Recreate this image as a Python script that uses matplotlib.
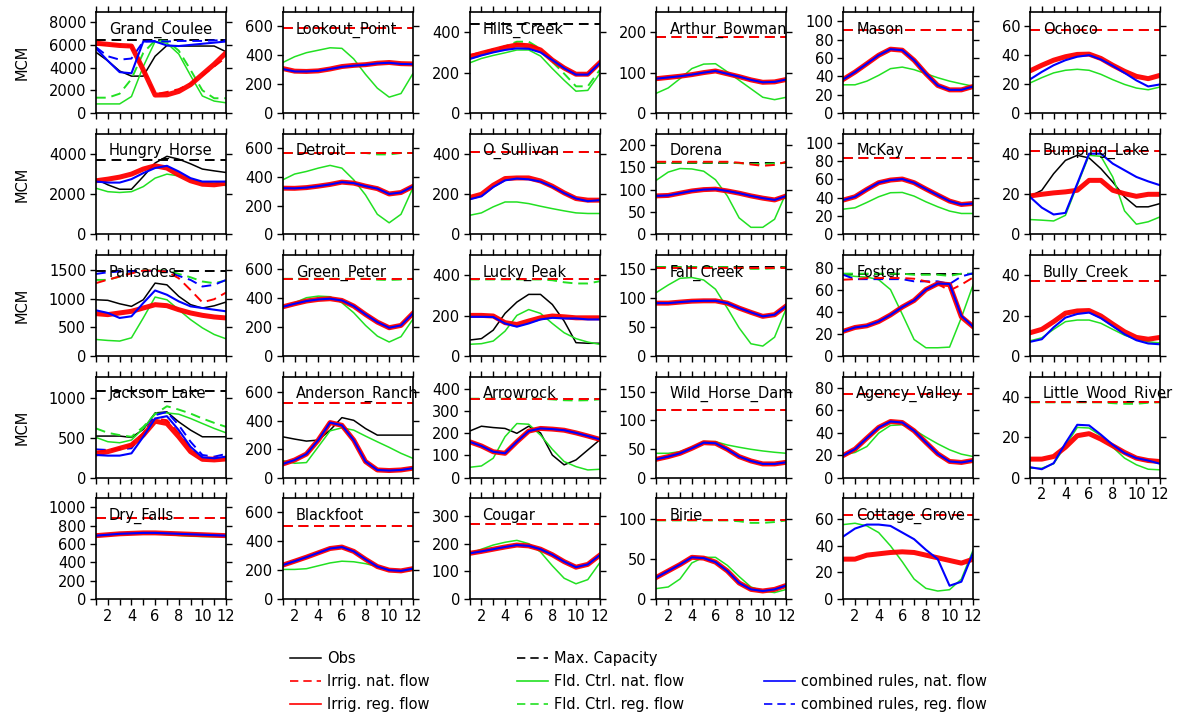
import matplotlib.pyplot as plt
from matplotlib.lines import Line2D
from matplotlib.ticker import MultipleLocator
import numpy as np

plt.rcParams['font.family'] = ['DejaVu Sans']

months = np.arange(1, 13)

names = ['Grand_Coulee', 'Lookout_Point', 'Hills_Creek', 'Arthur_Bowman', 'Mason', 'Ochoco',
         'Hungry_Horse', 'Detroit', 'O_Sullivan', 'Dorena', 'McKay', 'Bumping_Lake',
         'Palisades', 'Green_Peter', 'Lucky_Peak', 'Fall_Creek', 'Foster', 'Bully_Creek',
         'Jackson_Lake', 'Anderson_Ranch', 'Arrowrock', 'Wild_Horse_Dam', 'Agency_Valley',
         'Little_Wood_River', 'Dry_Falls', 'Blackfoot', 'Cougar', 'Birie', 'Cottage_Grove']

# y axis top and tick step per reservoir
ytop = {'Grand_Coulee': 8900, 'Lookout_Point': 700, 'Hills_Creek': 500, 'Arthur_Bowman': 250,
        'Mason': 110, 'Ochoco': 70, 'Hungry_Horse': 5000, 'Detroit': 700, 'O_Sullivan': 500,
        'Dorena': 225, 'McKay': 110, 'Bumping_Lake': 50, 'Palisades': 1760, 'Green_Peter': 700,
        'Lucky_Peak': 500, 'Fall_Creek': 175, 'Foster': 92, 'Bully_Creek': 50,
        'Jackson_Lake': 1270, 'Anderson_Ranch': 710, 'Arrowrock': 455, 'Wild_Horse_Dam': 177,
        'Agency_Valley': 90, 'Little_Wood_River': 50, 'Dry_Falls': 1100, 'Blackfoot': 700,
        'Cougar': 365, 'Birie': 126, 'Cottage_Grove': 76}
ystep = {'Grand_Coulee': 2000, 'Lookout_Point': 200, 'Hills_Creek': 200, 'Arthur_Bowman': 100,
         'Mason': 20, 'Ochoco': 20, 'Hungry_Horse': 2000, 'Detroit': 200, 'O_Sullivan': 200,
         'Dorena': 50, 'McKay': 20, 'Bumping_Lake': 20, 'Palisades': 500, 'Green_Peter': 200,
         'Lucky_Peak': 200, 'Fall_Creek': 50, 'Foster': 20, 'Bully_Creek': 20,
         'Jackson_Lake': 500, 'Anderson_Ranch': 200, 'Arrowrock': 100, 'Wild_Horse_Dam': 50,
         'Agency_Valley': 20, 'Little_Wood_River': 20, 'Dry_Falls': 200, 'Blackfoot': 200,
         'Cougar': 100, 'Birie': 50, 'Cottage_Grove': 20}

# maximum capacity (MCM)
cap = {'Grand_Coulee': 6450, 'Lookout_Point': 590, 'Hills_Creek': 442, 'Arthur_Bowman': 189,
       'Mason': 90.3, 'Ochoco': 57.6, 'Hungry_Horse': 3700, 'Detroit': 565, 'O_Sullivan': 408,
       'Dorena': 159, 'McKay': 83.6, 'Bumping_Lake': 41.3, 'Palisades': 1488, 'Green_Peter': 535,
       'Lucky_Peak': 379, 'Fall_Creek': 154, 'Foster': 75, 'Bully_Creek': 37.3,
       'Jackson_Lake': 1087, 'Anderson_Ranch': 526, 'Arrowrock': 355, 'Wild_Horse_Dam': 118,
       'Agency_Valley': 74.3, 'Little_Wood_River': 37.2, 'Dry_Falls': 880, 'Blackfoot': 505,
       'Cougar': 272, 'Birie': 98, 'Cottage_Grove': 63}

obs = {
    'Grand_Coulee': [5350, 4600, 3700, 3250, 3250, 5000, 5950, 5900, 5900, 5900, 5900, 5400],
    'Hungry_Horse': [2740, 2460, 2240, 2240, 2870, 3540, 3870, 3730, 3500, 3240, 3150, 3070],
    'Bumping_Lake': [18.9, 21.9, 30.1, 36.7, 39.2, 37.9, 32.6, 26.0, 18.6, 13.7, 13.7, 15.3],
    'Palisades': [980, 970, 910, 865, 980, 1270, 1240, 1040, 895, 835, 875, 940],
    'Lucky_Peak': [79, 86, 128, 211, 267, 305, 305, 255, 173, 66, 63, 63],
    'Jackson_Lake': [521, 521, 521, 504, 604, 812, 825, 700, 596, 512, 512, 512],
    'Anderson_Ranch': [286, 270, 256, 263, 333, 421, 402, 344, 298, 298, 298, 298],
    'Arrowrock': [209, 231, 225, 221, 199, 231, 201, 101, 57, 79, 124, 169],
}

# irrigation rule, natural flow (a single number = stays at that level)
irr_nat = {
    'Grand_Coulee': [6000, 6000, 6000, 5900, 3800, 1650, 1850, 2100, 2600, 3300, 4100, 4900],
    'Lookout_Point': 590, 'Arthur_Bowman': 189, 'Mason': 90.3, 'Ochoco': 57.6,
    'Hills_Creek': [287, 300, 315, 330, 342, 340, 318, 265, 225, 192, 192, 248],
    'Detroit': 565, 'O_Sullivan': 408, 'McKay': 83.6, 'Bumping_Lake': 41.3,
    'Dorena': [162, 162, 162, 162, 162, 162, 162, 160, 156, 153, 155, 162],
    'Palisades': [1270, 1330, 1385, 1440, 1488, 1488, 1470, 1355, 1150, 935, 990, 1105],
    'Green_Peter': 535, 'Lucky_Peak': 379, 'Fall_Creek': 153, 'Bully_Creek': 37.3,
    'Foster': [69.5, 70, 71, 71, 71, 71, 70.4, 68, 65.6, 59.6, 65, 71.6],
    'Jackson_Lake': [325, 340, 370, 408, 560, 742, 720, 560, 360, 254, 250, 245],
    'Anderson_Ranch': 526, 'Arrowrock': 355, 'Wild_Horse_Dam': 118, 'Agency_Valley': 74.3,
    'Little_Wood_River': 37.2, 'Dry_Falls': 880, 'Blackfoot': 505, 'Cougar': 272,
    'Birie': 98, 'Cottage_Grove': 63,
}

# irrigation rule, regulated flow
irr_reg = {
    'Grand_Coulee': [6150, 6050, 5950, 5900, 3800, 1580, 1600, 1900, 2500, 3400, 4300, 5300],
    'Lookout_Point': [308, 290, 288, 292, 305, 322, 330, 335, 345, 350, 342, 340],
    'Hills_Creek': [278, 295, 310, 325, 337, 333, 312, 262, 223, 192, 192, 248],
    'Arthur_Bowman': [85, 88, 91, 95, 100, 104, 97, 90, 82, 76, 77, 83],
    'Mason': [36.6, 44.6, 53.7, 62.9, 69.5, 68.4, 57.4, 42.8, 30.0, 25.2, 25.2, 28.9],
    'Ochoco': [29.2, 33.1, 36.6, 39.0, 40.6, 40.8, 37.8, 33.1, 28.9, 25.4, 23.8, 26.1],
    'Hungry_Horse': [2660, 2740, 2840, 2990, 3240, 3400, 3290, 2950, 2660, 2490, 2460, 2540],
    'Detroit': [321, 320, 325, 335, 347, 363, 356, 335, 318, 281, 291, 333],
    'O_Sullivan': [183, 199, 244, 277, 280, 280, 265, 239, 206, 178, 170, 170],
    'Dorena': [86, 87, 92, 97, 100, 101, 97, 92, 86, 81, 77, 86],
    'McKay': [37.5, 41.1, 49.1, 56.4, 59.3, 60.4, 56.4, 49.5, 42.9, 36.4, 32.7, 33.8],
    'Bumping_Lake': [19.1, 19.9, 20.6, 21.1, 21.9, 26.8, 26.8, 21.9, 20.2, 18.9, 19.9, 19.9],
    'Palisades': [738, 721, 750, 779, 836, 894, 877, 807, 750, 709, 680, 663],
    'Green_Peter': [341, 362, 381, 392, 397, 385, 346, 288, 235, 196, 212, 295],
    'Lucky_Peak': [201, 201, 198, 165, 156, 173, 189, 198, 194, 189, 189, 189],
    'Fall_Creek': [91.6, 91.6, 93.4, 95.0, 95.6, 95.6, 91.6, 83.0, 75.6, 68.7, 71.6, 87.0],
    'Foster': [22.5, 26, 27.5, 31.4, 37.4, 44.6, 50.6, 60.5, 65.9, 65, 35.6, 26.6],
    'Bully_Creek': [11.5, 13.2, 17, 21.2, 22.3, 22.5, 19.8, 15.8, 12, 9.2, 8.3, 9.2],
    'Jackson_Lake': [296, 325, 367, 408, 533, 708, 679, 512, 325, 229, 221, 233],
    'Anderson_Ranch': [95, 123, 165, 263, 386, 367, 263, 112, 53, 49, 53, 65],
    'Arrowrock': [161, 142, 116, 109, 161, 209, 221, 218, 213, 201, 187, 172],
    'Wild_Horse_Dam': [32, 36.6, 42.4, 51.2, 61, 60, 49.4, 36.6, 29, 23.8, 23.8, 26.7],
    'Agency_Valley': [19.6, 25.3, 35.1, 44.6, 49.9, 49, 41.6, 31.2, 21.1, 14.3, 13.4, 15.2],
    'Little_Wood_River': [9.1, 9.1, 10.4, 15, 20.7, 21.7, 19, 15.7, 12.4, 9.6, 8.4, 7.9],
    'Dry_Falls': [690, 700, 710, 715, 720, 720, 715, 710, 705, 700, 695, 690],
    'Blackfoot': [235, 262, 290, 320, 350, 360, 330, 275, 225, 200, 195, 210],
    'Cougar': [165, 172, 180, 188, 195, 192, 180, 160, 135, 115, 125, 158],
    'Birie': [27, 35, 43, 52, 51, 46, 35, 20, 12, 10, 12, 17],
    'Cottage_Grove': [30, 30, 33, 34, 35, 35.5, 35, 33, 31, 29, 27, 30],
}

# flood control rule, natural flow
fld_nat = {
    'Grand_Coulee': [800, 800, 800, 1450, 4100, 6300, 6150, 5200, 3300, 1500, 1050, 900],
    'Lookout_Point': [350, 390, 418, 435, 452, 448, 375, 268, 172, 110, 135, 272],
    'Hills_Creek': [248, 270, 285, 298, 312, 312, 282, 220, 162, 108, 112, 195],
    'Arthur_Bowman': [49, 62, 85, 110, 121, 122, 102, 81, 60, 39, 33, 39],
    'Mason': [30.7, 30.7, 34.7, 41.0, 48.3, 50.0, 47.2, 42.8, 38.4, 34.7, 31.8, 29.2],
    'Ochoco': [20.8, 24.5, 27.8, 29.6, 30.3, 29.6, 26.8, 23.1, 19.8, 17.3, 16.1, 18.0],
    'Hungry_Horse': [2290, 2120, 2080, 2120, 2370, 2790, 2990, 2900, 2740, 2570, 2540, 2420],
    'Detroit': [379, 419, 437, 460, 479, 460, 379, 274, 140, 81, 140, 321],
    'O_Sullivan': [95, 107, 137, 161, 161, 153, 140, 128, 117, 107, 104, 104],
    'Dorena': [121, 139, 147, 146, 141, 122, 86, 37, 16, 16, 34, 94],
    'McKay': [27.6, 29.1, 34.9, 41.1, 45.5, 45.8, 41.8, 35.6, 30.2, 25.5, 22.9, 22.9],
    'Bumping_Lake': [7.4, 7.1, 6.7, 9.5, 24.4, 39.2, 38.7, 28.5, 11.7, 5.1, 6.3, 8.7],
    'Palisades': [288, 271, 260, 317, 663, 1027, 980, 807, 634, 490, 375, 300],
    'Green_Peter': [334, 369, 404, 415, 411, 369, 300, 212, 138, 97, 134, 254],
    'Lucky_Peak': [58, 61, 74, 123, 201, 230, 211, 161, 115, 86, 69, 58],
    'Fall_Creek': [110, 123, 134.6, 136, 131.7, 115.7, 83, 48.7, 21.2, 17.2, 32.6, 83],
    'Foster': [74, 72.5, 71.9, 69.5, 60.5, 38, 15, 7.5, 7.5, 8.1, 35, 65],
    'Bully_Creek': [7.5, 9, 13.2, 17, 17.8, 17.8, 16.2, 13.2, 10.3, 8.2, 7, 6.5],
    'Jackson_Lake': [504, 450, 437, 471, 617, 804, 812, 796, 742, 679, 617, 562],
    'Anderson_Ranch': [119, 100, 105, 216, 328, 349, 333, 291, 251, 212, 170, 135],
    'Arrowrock': [46, 52, 87, 184, 243, 240, 191, 127, 72, 49, 34, 37],
    'Wild_Horse_Dam': [42.4, 42.4, 45.3, 53, 62.8, 62.8, 57, 53, 49.4, 46.5, 44.2, 42.4],
    'Agency_Valley': [20.2, 22.3, 27.6, 39.5, 46.4, 47, 42.5, 36, 30, 24.7, 20.8, 18.7],
    'Little_Wood_River': [4.6, 4.6, 6.8, 15.7, 24.8, 24.5, 20.7, 15, 9.6, 6.3, 4.1, 3.8],
    'Dry_Falls': [680, 690, 700, 708, 712, 710, 702, 692, 684, 680, 678, 680],
    'Blackfoot': [205, 205, 210, 230, 250, 262, 258, 245, 225, 205, 190, 200],
    'Cougar': [165, 180, 195, 205, 212, 200, 170, 120, 75, 55, 70, 130],
    'Birie': [13, 15, 25, 45, 52, 52, 42, 28, 15, 10, 8, 12],
    'Cottage_Grove': [56, 57, 55, 50, 40, 28, 15, 8, 6, 7, 15, 37],
}

# flood control rule, regulated flow (only where it leaves the capacity line)
fld_reg = {
    'Grand_Coulee': [1350, 1350, 1700, 3000, 5300, 6400, 6350, 5500, 3800, 2000, 1300, 1300],
    'Hills_Creek': [270, 285, 305, 330, 353, 353, 317, 253, 195, 132, 132, 212],
    'Detroit': [565, 565, 565, 565, 565, 565, 565, 565, 555, 555, 565, 565],
    'Dorena': [160, 160, 160, 160, 160, 160, 160, 159, 157, 157, 158, 160],
    'Palisades': [1326, 1326, 1384, 1453, 1488, 1488, 1488, 1430, 1372, 1298, 1269, 1315],
    'Green_Peter': [535, 535, 535, 535, 535, 535, 535, 535, 529, 527, 530, 535],
    'Lucky_Peak': [379, 379, 379, 379, 379, 379, 379, 375, 365, 359, 359, 370],
    'Fall_Creek': [154, 154, 154, 154, 154, 154, 154, 153, 151, 151, 152, 154],
    'Foster': [75, 75, 75, 75, 75, 75, 74, 74, 74, 73, 75, 75],
    'Jackson_Lake': [617, 562, 533, 512, 637, 796, 896, 854, 804, 742, 687, 637],
    'Arrowrock': [355, 355, 355, 355, 355, 355, 355, 352, 348, 347, 348, 352],
    'Little_Wood_River': [37.2, 37.2, 37.2, 37.2, 37.2, 37.2, 37.2, 36.8, 36.5, 36.5, 37, 37.2],
    'Birie': [98, 98, 98, 98, 98, 98, 98, 97, 95, 95, 96, 98],
}

# combined rules, natural flow (where missing it coincides with irrigation reg. flow)
comb_nat = {
    'Grand_Coulee': [5700, 4600, 3600, 3500, 6300, 6300, 5950, 5900, 6000, 6100, 6200, 6300],
    'Lookout_Point': [305, 288, 288, 292, 305, 320, 328, 334, 344, 348, 340, 338],
    'Hills_Creek': [267, 285, 300, 312, 320, 318, 300, 262, 222, 190, 190, 246],
    'Ochoco': [23.3, 28.5, 33.1, 36.6, 39.0, 40.1, 37.1, 32.7, 27.8, 22.6, 18.4, 19.8],
    'Hungry_Horse': [2620, 2570, 2570, 2740, 3040, 3290, 3400, 3120, 2790, 2620, 2620, 2620],
    'O_Sullivan': [174, 189, 235, 268, 277, 273, 262, 237, 205, 178, 165, 170],
    'Bumping_Lake': [18.6, 13.3, 9.9, 10.7, 25.2, 40.0, 40.0, 35.1, 31.8, 28.5, 26.3, 24.4],
    'Palisades': [796, 750, 663, 692, 923, 1142, 1067, 952, 865, 836, 807, 779],
    'Lucky_Peak': [194, 194, 193, 161, 145, 161, 181, 189, 186, 186, 181, 181],
    'Foster': [22.5, 26, 27.5, 31.4, 37.4, 44.6, 50.6, 60.5, 66, 65.6, 36.5, 26.6],
    'Bully_Creek': [7, 8.3, 14.2, 19, 20.8, 21.5, 18.7, 14.8, 10.8, 7.8, 6.2, 5.8],
    'Jackson_Lake': [283, 275, 275, 304, 512, 742, 771, 596, 387, 254, 242, 262],
    'Little_Wood_River': [5.1, 4.1, 7.1, 17, 26.1, 25.8, 21.2, 16.2, 12.1, 9.6, 8.4, 6.8],
    'Cottage_Grove': [47, 53, 56, 56, 55, 50, 45, 37, 30, 10, 13, 35],
}

# combined rules, regulated flow (only where it leaves the capacity line)
comb_reg = {
    'Grand_Coulee': [5800, 5000, 4700, 4800, 6300, 6350, 6300, 6350, 6350, 6350, 6400, 6400],
    'Palisades': [1430, 1459, 1471, 1471, 1482, 1482, 1471, 1396, 1326, 1211, 1240, 1326],
    'Foster': [74, 70, 70, 70, 70, 70, 68, 68, 68, 65.6, 72.5, 75.4],
    'Jackson_Lake': [354, 346, 354, 367, 554, 783, 825, 658, 450, 283, 262, 296],
}

RED, GREEN, BLUE = '#ff0000', '#22e022', '#0000ff'
DASH = (5, 3)
FS = 10.5

W, H = 1182.0, 718.0
fig = plt.figure(figsize=(W / 100, H / 100), dpi=100)


def draw(ax, series, **kw):
    if np.isscalar(series):
        ax.axhline(series, **kw)
    else:
        ax.plot(months, series, **kw)


for i, name in enumerate(names):
    r, c = divmod(i, 6)
    left = 96 + c * 186.8
    top = 12 + r * 121.5
    ax = fig.add_axes([left / W, 1 - (top + 101) / H, 130 / W, 101 / H])

    if name in obs:
        draw(ax, obs[name], color='black', lw=1.1)
    draw(ax, cap[name], color='black', lw=1.4, dashes=DASH)
    draw(ax, fld_nat[name], color=GREEN, lw=1.1)
    if name in fld_reg:
        draw(ax, fld_reg[name], color=GREEN, lw=1.4, dashes=DASH)
    if name in comb_reg:
        draw(ax, comb_reg[name], color=BLUE, lw=1.4, dashes=DASH)
    if name in irr_nat:
        draw(ax, irr_nat[name], color=RED, lw=1.4, dashes=DASH)
    draw(ax, irr_reg[name], color=RED, lw=3.6, alpha=0.95)
    draw(ax, comb_nat.get(name, irr_reg[name]), color=BLUE, lw=1.5)

    ax.set_xlim(1, 12)
    ax.set_ylim(0, ytop[name])
    ax.set_yticks(np.arange(0, ytop[name] + 1, ystep[name]))
    ax.xaxis.set_major_locator(MultipleLocator(2))
    ax.xaxis.set_minor_locator(MultipleLocator(1))
    ax.tick_params(which='both', direction='out', top=True, right=True,
                   length=4, width=1, labelsize=FS, pad=3)
    if not (r == 4 or name == 'Little_Wood_River'):
        ax.tick_params(labelbottom=False)
    for sp in ax.spines.values():
        sp.set_linewidth(1.2)

    ax.text(0.1, 0.785, name, transform=ax.transAxes, fontsize=FS, va='baseline')

for r in range(4):
    fig.text(22 / W, 1 - (12 + r * 121.5 + 50.5) / H, 'MCM', rotation=90,
             ha='center', va='center', fontsize=FS)

# legend, three columns
blank = Line2D([], [], color='none')
cols = [
    ([Line2D([], [], color='black', lw=1.1),
      Line2D([], [], color=RED, lw=1.2, dashes=DASH),
      Line2D([], [], color=RED, lw=1.2)],
     ['Obs', 'Irrig. nat. flow', 'Irrig. reg. flow'], 277),
    ([Line2D([], [], color='black', lw=1.2, dashes=DASH),
      Line2D([], [], color=GREEN, lw=1.2),
      Line2D([], [], color=GREEN, lw=1.2, dashes=DASH)],
     ['Max. Capacity', 'Fld. Ctrl. nat. flow', 'Fld. Ctrl. reg. flow'], 504),
    ([blank,
      Line2D([], [], color=BLUE, lw=1.2),
      Line2D([], [], color=BLUE, lw=1.2, dashes=DASH)],
     [' ', 'combined rules, nat. flow', 'combined rules, reg. flow'], 751),
]
for handles, labels, x in cols:
    fig.legend(handles, labels, loc='upper left', bbox_to_anchor=(x / W, 1 - 638 / H),
               frameon=False, fontsize=FS, handlelength=2.1, handletextpad=0.45,
               labelspacing=0.55)

fig.savefig('out.png', dpi=100)
